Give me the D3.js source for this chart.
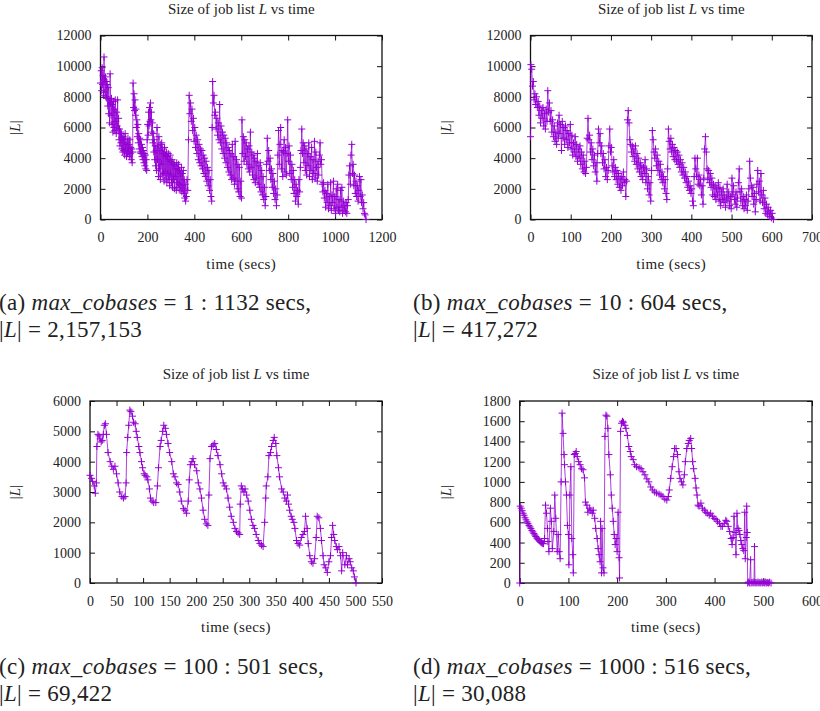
<!DOCTYPE html>
<html>
<head>
<meta charset="utf-8">
<script src="https://cdn.jsdelivr.net/npm/d3@7"></script>
<style>
body { margin: 0; background: #fff; }
svg text { font-family: 'Liberation Serif', 'DejaVu Serif', serif; fill: #222; }
</style>
</head>
<body>
<svg id="mainFrame" width="820" height="711"></svg>
<script>
// ---- data: [time (secs), |L|] ----
const seriesA = [[0,8900],[3,9700],[5,8400],[7,9900],[9,8800],[11,9400],[13,8100],[15,10600],[17,9100],[19,8300],[21,9300],[23,8000],[25,9000],[27,7900],[29,8800],[31,7400],[33,8600],[35,6900],[37,7800],[39,6300],[41,9500],[43,7600],[45,6800],[47,7900],[49,6200],[51,7500],[53,5700],[55,7700],[57,6000],[59,7200],[61,5800],[63,7800],[65,6400],[67,5600],[69,7000],[71,6100],[73,7800],[75,5900],[77,6600],[79,5200],[81,5900],[83,4800],[85,5700],[87,5000],[89,5600],[91,4600],[93,5300],[95,4400],[97,5400],[99,4500],[101,5200],[103,4200],[105,5600],[107,4600],[109,4900],[111,4100],[113,5000],[115,4300],[117,5300],[119,4400],[121,4900],[123,4100],[125,5200],[127,4300],[129,4700],[131,3900],[133,4600],[135,3700],[137,4400],
  [139,8900],[141,7300],[143,8200],[145,7100],[147,7800],[149,6800],[151,7200],[153,6000],[155,6500],[157,5400],[159,6200],[161,5000],[163,5600],[165,4600],[167,5300],[169,4400],[171,5200],[173,4300],[175,4900],[177,4100],[179,4700],[181,3900],[183,4500],[185,3700],[187,4300],[189,3500],[191,4200],[193,3300],[195,3900],[197,3200],
  [199,5200],[201,6200],[203,5500],[205,7000],[207,6100],[209,7300],[211,6400],[213,7600],[215,6500],[217,7000],[219,5700],[221,6300],[223,5000],[225,5600],[227,4400],[229,5200],[231,3900],[233,4800],[235,3500],[237,4500],[239,3200],
  [241,6000],[243,3900],[245,4800],[247,2800],[249,5400],[251,3300],[253,4500],[255,2600],[257,4900],[259,3600],[261,5000],[263,2900],[265,4600],[267,3000],[269,4300],[271,2500],[273,4700],[275,3100],[277,4200],[279,2700],[281,4400],[283,2400],[285,4100],[287,3000],[289,4300],[291,2600],[293,3900],[295,2200],[297,4200],[299,2900],[301,3800],[303,2400],[305,3900],[307,2100],[309,3600],[311,2600],[313,3700],[315,2000],[317,3500],[319,2800],[321,3300],[323,1900],[325,3700],[327,2400],[329,3300],[331,2100],[333,3600],[335,2300],[337,3200],[339,1900],[341,3000],[343,2200],[345,3400],[347,1800],[349,3000],[351,2000],[353,3200],[355,1700],[357,2600],[359,1400],[361,2300],
  [363,1200],[366,1500],[369,2600],[372,1900],[375,5200],[378,8100],[381,6900],[384,7600],[387,6400],[390,7200],[393,5800],[396,6600],[399,5100],[402,6000],[405,4700],[408,5500],[411,4300],[414,5200],[417,3900],[420,4900],[423,3700],[426,4600],[429,3500],[432,4500],[435,3300],[438,4200],[441,3000],[444,4000],[447,2800],[450,3800],[453,2500],[456,3400],[459,2200],[462,3200],[465,1900],[468,2600],[471,1500],[474,1200],
  [476,6000],[478,9000],[481,7600],[484,8100],[487,6800],[490,7000],[493,5900],[496,6600],[499,5500],[502,6300],[505,5200],[508,7500],[511,5000],[514,6100],[517,4600],[520,5700],[523,4300],[526,5500],[529,4000],[532,5300],[535,3700],[538,5000],[541,3400],[544,4700],[547,3100],[550,4500],[553,2900],[556,4300],[559,2600],[562,4900],[565,2700],[568,4100],[571,2300],[574,5100],[577,2500],[580,3900],[583,2000],[586,3600],[589,1800],[592,3400],[595,1500],[598,2500],[601,1400],
  [603,6500],[606,4300],[609,5400],[612,3800],[615,5200],[618,4100],[621,5000],[624,3600],[627,4600],[630,3300],[633,4800],[636,3100],[639,5700],[642,3400],[645,4400],[648,2900],[651,4200],[654,2600],[657,4000],[660,2400],[663,3800],[666,2700],[669,4300],[672,2300],[675,3500],[678,2100],[681,3700],[684,1800],[687,3200],[690,1600],[693,2800],[696,1300],[699,2100],[702,900],[705,1500],
  [708,3600],[711,5300],[714,3800],[717,4500],[720,3200],[723,4000],[726,2600],[729,3300],[732,2100],[735,3000],[738,1700],[741,2500],[744,1300],[747,2000],[750,900],[753,1600],
  [756,4200],[759,5800],[762,3600],[765,4900],[768,6000],[771,3300],[774,4500],[777,2800],[780,4400],[783,5200],[786,3100],[789,4700],[792,2900],[795,4300],[798,6500],[801,3800],[804,4800],[807,3000],[810,4200],[813,2600],[816,3600],[819,2100],[822,3200],[825,1700],[828,2600],[831,1200],[834,2300],[837,1500],[840,1900],[843,1000],[846,2600],[849,1800],[852,3400],
  [855,4500],[858,5900],[861,4300],[864,5000],[867,3700],[870,4800],[873,3200],[876,4600],[879,2900],[882,4300],[885,3500],[888,5000],[891,2800],[894,4100],[897,3200],[900,4700],[903,2600],[906,3900],[909,3000],[912,5100],[915,2700],[918,4400],[921,3400],[924,2500],[927,3800],[930,2900],[933,4200],[936,5000],[939,3600],[942,3900],[945,2300],
  [948,1800],[951,2400],[954,1400],[957,1900],[960,800],[963,1700],[966,1100],[969,2300],[972,700],[975,1500],[978,900],[981,2400],[984,600],[987,1600],[990,1100],[993,2500],[996,700],[999,1500],[1002,400],[1005,2000],[1008,800],[1011,2300],[1014,600],[1017,1300],[1020,500],[1023,1900],[1026,800],[1029,2100],[1032,400],[1035,1200],[1038,600],[1041,900],[1044,500],[1047,1100],[1050,400],[1053,900],[1056,1300],
  [1059,2900],[1062,3500],[1065,2300],[1068,4200],[1071,4900],[1074,3000],[1077,3600],[1080,2200],[1083,2900],[1086,1700],[1089,2500],[1092,1500],[1095,2200],[1098,1200],[1101,1900],[1104,2800],[1107,1500],[1110,2600],[1113,1100],[1116,1600],[1119,700],[1122,1100],[1125,400],[1128,300],[1132,0]];

const seriesB = [[0,5400],[1,10100],[3,9800],[5,8700],[7,9000],[9,7800],[11,8200],[13,7500],[15,8000],[17,7300],[19,7700],[21,6800],[23,7400],[25,6300],[27,7100],[29,6600],[31,7300],[33,6100],[35,6900],[37,5900],[39,7200],[41,6400],[43,8400],[45,7000],[47,7600],[49,6400],[51,7100],[53,5700],[55,6500],[57,5400],[59,6100],[61,5100],[63,5700],[65,4900],[67,6300],[69,5300],[71,6800],[73,5600],[75,6200],[77,4500],[79,6400],[81,5300],[83,6000],[85,4900],[87,6100],[89,5200],[91,5800],[93,4700],[95,5600],[97,5000],[99,6200],[101,4600],[103,5500],[105,4200],[107,5000],[109,4400],[111,5400],[113,4100],[115,4900],[117,3800],[119,4600],[121,4000],[123,4800],[125,3600],[127,4400],[129,3300],[131,4200],[133,3100],[135,3800],[137,3000],[139,3400],
  [141,5300],[143,6600],[145,5200],[147,5500],[149,4400],[151,5000],[153,3900],[155,4600],[157,3500],[159,4200],[161,3100],[163,3700],[165,2500],[167,4300],[169,5900],[171,5000],[173,5600],[175,4300],[177,4800],[179,3700],[181,4300],[183,3300],[185,3900],[187,2800],[189,3400],[191,2600],[193,3200],[195,4800],[197,5900],[199,4400],[201,4700],[203,3500],[205,3100],[207,3900],[209,2800],[211,3400],[213,2600],[215,3200],[217,2300],[219,3000],[221,2100],[223,2700],[225,1900],[227,2800],[229,2200],[231,3100],[233,2400],[235,2600],[237,1500],[239,2500],
  [241,6500],[243,7100],[245,6300],[247,5200],[249,4900],[251,4400],[253,4800],[255,4100],[257,4600],[259,3800],[261,4800],[263,3600],[265,4300],[267,3300],[269,4000],[271,3100],[273,3700],[275,2800],[277,3500],[279,2600],[281,3400],[283,3000],[285,3900],[287,2400],[289,3300],[291,2000],[293,2800],[295,1600],[297,2400],[299,1200],
  [301,3200],[303,5800],[305,5200],[307,4400],[309,4000],[311,4600],[313,3500],[315,4200],[317,3200],[319,3800],[321,2900],[323,3600],[325,2600],[327,3100],[329,2400],[331,2800],[333,2000],[335,2600],[337,1700],[339,1300],
  [341,3300],[343,5900],[345,5100],[347,4600],[349,5300],[351,4400],[353,4900],[355,4100],[357,4700],[359,3900],[361,4500],[363,3800],[365,4400],[367,3600],[369,4200],[371,3400],[373,3900],[375,3100],[377,3700],[379,2900],[381,3400],[383,2700],[385,3100],[387,2400],[389,2800],[391,2100],[393,2500],[395,1900],[397,2200],[399,1700],[401,2000],[403,1200],[405,900],
  [407,2800],[409,4000],[411,3300],[413,2800],[415,4000],[417,2300],[419,2900],[421,2200],[423,2600],[425,1600],[427,2200],[429,1000],[431,2700],[433,4600],[435,5400],[437,4400],[439,3300],[441,2600],[443,3200],[445,2400],[447,3000],[449,2100],[451,2700],[453,1600],[455,2300],[457,1500],[459,2200],[461,1300],[463,2000],[465,1600],[467,2400],[469,1200],[471,2100],[473,900],[475,1800],[477,1300],[479,2000],[481,1100],[483,1600],[485,800],[487,1400],[489,2300],[491,1200],[493,1800],[495,900],[497,1500],[499,700],
  [501,2700],[503,1600],[505,2200],[507,1300],[509,1000],[511,1800],[513,800],[515,1400],[517,2400],[519,3300],[521,1800],[523,1200],[525,2000],[527,900],[529,1500],[531,700],[533,1300],[535,900],[537,1600],[539,600],[541,1200],[543,2000],[545,3800],[547,2700],[549,2200],[551,1500],[553,2100],[555,1000],[557,1700],[559,500],[561,1300],[563,2300],[565,3200],[567,1800],[569,2500],[571,1200],[573,3000],[575,1600],[577,1100],[579,1900],[581,700],[583,1400],[585,400],[587,1000],[589,300],[591,800],[593,500],[595,200],[597,600],[599,100],[601,400],[604,0]];

const seriesC = [[0,3550],[3,3450],[5,3350],[8,3200],[10,2960],[12,3300],[13,4500],[15,4900],[17,4850],[19,4750],[21,4650],[23,4700],[25,4900],[27,5200],[29,5250],[31,4900],[34,4300],[38,4000],[41,3850],[44,3750],[47,3850],[50,3600],[53,3300],[56,3000],[60,2850],[63,2800],[66,2850],
  [68,3300],[69,4300],[71,4800],[73,5200],[75,5700],[77,5650],[80,5500],[82,5300],[85,5250],[87,5000],[89,4800],[92,4500],[94,4300],[97,4000],[99,3800],[102,3600],[104,3550],[107,3500],[109,3400],[112,3100],[114,2800],[117,2700],[120,2650],[124,2650],
  [127,3200],[129,3800],[132,4500],[134,4700],[137,5000],[139,5200],[142,5100],[144,4900],[147,4600],[150,4300],[154,4000],[157,3600],[160,3500],[163,3300],[166,3250],[169,3000],[172,2700],[176,2450],[179,2400],[182,2300],
  [185,2700],[187,3400],[189,3900],[192,4000],[194,4100],[197,3900],[201,3700],[204,3300],[207,3100],[210,2800],[213,2400],[216,2100],[219,1950],[222,1900],
  [224,2900],[226,4100],[229,4500],[232,4550],[235,4600],[238,4400],[241,4200],[245,3900],[248,3600],[251,3300],[254,3200],[257,3100],[260,2800],[263,2500],[266,2200],[270,2000],[273,1800],[276,1700],[279,1650],[282,1600],
  [283,2600],[285,3200],[287,3100],[290,3000],[292,3100],[295,2900],[298,2700],[301,2400],[304,2100],[307,1900],[310,1800],[313,1600],[317,1400],[320,1300],[323,1250],[326,1200],
  [329,2000],[331,2800],[332,3200],[335,3500],[337,4200],[340,4300],[342,4500],[345,4700],[347,4800],[350,4600],[352,4200],[355,3800],[357,3500],[361,3100],[364,3000],[367,2800],[370,2700],[372,2900],[374,2600],[376,2400],[379,2200],[381,2100],[384,2000],[386,1800],[389,1400],[392,1300],[395,1250],[398,1500],[401,1600],[404,1700],[406,2200],[409,1800],[411,1300],[414,900],[417,700],[420,650],[423,800],[426,1500],[428,2200],[431,2150],[434,1800],[436,1400],[439,900],[441,600],[444,500],[447,350],[450,700],[453,900],[455,1500],[457,1900],[459,1600],[461,1400],[464,1200],[466,1100],[469,1200],[472,900],[474,400],[476,1000],[480,600],[483,900],[485,600],[488,800],[490,700],[493,500],[496,400],[498,200],[501,0]];

const seriesD = [[0,0],[1,760],[3,740],[5,715],[7,690],[9,670],[11,645],[13,625],[15,605],[17,590],[19,570],[21,555],[23,540],[25,520],[27,505],[29,490],[31,475],[33,460],[35,445],[37,435],[39,425],[41,415],[43,405],[45,398],[47,392],[49,388],
  [51,440],[53,770],[55,690],[57,540],[58,410],[60,310],[63,740],[65,610],[67,340],[70,510],[72,870],[74,640],[77,310],[79,480],[81,310],[83,240],[85,1000],[87,1680],[89,1480],[91,1270],[92,1170],[94,1000],[96,870],[98,570],[100,480],[101,180],[103,870],[105,1150],[107,440],[109,280],[110,100],
  [112,1270],[114,1280],[116,1300],[118,1250],[121,1200],[124,1170],[127,1130],[130,1120],[133,1040],[135,800],[138,770],[140,700],[143,740],[146,720],[149,690],[151,720],[154,640],[156,540],[159,440],[161,340],[163,280],[165,210],[166,610],[168,100],[169,540],[171,150],[173,100],
  [175,1450],[177,1660],[179,1650],[181,1530],[183,1270],[186,1070],[188,870],[190,740],[192,610],[194,480],[196,380],[198,440],[200,310],[202,700],[204,250],[205,50],
  [207,1500],[209,1580],[211,1600],[213,1590],[216,1560],[218,1530],[221,1460],[224,1350],[227,1300],[229,1250],[233,1220],[236,1170],[240,1150],[245,1140],[249,1130],[253,1100],[257,1070],[261,1030],[265,1000],[269,950],[273,920],[277,900],[281,890],[286,880],[290,870],[294,855],[298,830],[302,820],
  [305,855],[307,920],[310,1035],[313,1150],[316,1250],[318,1330],[321,1330],[324,1270],[327,1100],[329,1035],[332,1000],[335,970],[338,1070],[340,1200],[343,1330],[346,1380],[348,1410],[351,1430],[353,1330],[355,1200],[357,1130],[360,1035],[362,940],[364,870],[366,770],[368,760],
  [372,790],[375,740],[379,720],[382,700],[385,690],[389,670],[392,690],[396,660],[399,640],[403,630],[406,610],[410,590],[413,560],[416,560],[420,590],[423,620],[425,610],[428,560],[431,510],[434,440],[436,380],[438,450],[440,660],[442,500],[444,280],[446,690],[448,540],[450,520],[452,480],[454,420],[456,380],[458,340],[460,320],[462,700],[463,240],[465,450],[466,760],[467,500],
  [468,0],[470,10],[472,0],[474,230],[475,0],[477,8],[479,0],[481,10],[482,360],[483,0],[485,5],[487,0],[489,10],[491,0],[493,5],[495,0],[497,10],[499,0],[501,5],[503,0],[505,10],[507,0],[509,5],[511,0],[513,8],[516,0]];

// tick values per panel
const xTicksA = [0, 200, 400, 600, 800, 1000, 1200];
const xTicksB = [0, 100, 200, 300, 400, 500, 600, 700];
const xTicksC = [0, 50, 100, 150, 200, 250, 300, 350, 400, 450, 500, 550];
const xTicksD = [0, 100, 200, 300, 400, 500, 600];
const yTicksAB = [0, 2000, 4000, 6000, 8000, 10000, 12000];
const yTicksC = [0, 1000, 2000, 3000, 4000, 5000, 6000];
const yTicksD = [0, 200, 400, 600, 800, 1000, 1200, 1400, 1600, 1800];

// captions: [prefix, max_cobases value, secs, |L|]
const captionA = ['(a)', '1', '1132', '2,157,153'];
const captionB = ['(b)', '10', '604', '417,272'];
const captionC = ['(c)', '100', '501', '69,422'];
const captionD = ['(d)', '1000', '516', '30,088'];

const svg = d3.select('#mainFrame');
const purple = '#9400d3';
const tickLen = 5;

const render = (data, xTicks, yTicks, box, caption) => {
    const xScale = d3.scaleLinear()
        .domain([0, xTicks[xTicks.length - 1]])
        .range([box.left, box.right]);
    const yScale = d3.scaleLinear()
        .domain([0, yTicks[yTicks.length - 1]])
        .range([box.bottom, box.top]);

    const g = svg.append('g');

    // mirrored inward ticks on all four sides
    const axes = [
        [d3.axisBottom(xScale), `translate(0,${box.bottom})`, true],
        [d3.axisTop(xScale), `translate(0,${box.top})`, false],
        [d3.axisLeft(yScale), `translate(${box.left},0)`, true],
        [d3.axisRight(yScale), `translate(${box.right},0)`, false]
    ];
    axes.forEach(([axis, tr, labels], i) => {
        const ticks = i < 2 ? xTicks : yTicks;
        axis.tickValues(ticks)
            .tickSizeInner(-tickLen)
            .tickSizeOuter(0)
            .tickPadding(i < 2 ? 13 : 9)
            .tickFormat(labels ? d3.format('d') : '');
        const ag = g.append('g').attr('transform', tr).call(axis);
        ag.select('.domain').remove();
        ag.selectAll('line').attr('stroke', '#111').attr('stroke-width', 1);
        ag.selectAll('text')
            .attr('font-family', "'Liberation Serif', serif")
            .attr('font-size', 14)
            .attr('fill', '#222');
    });

    g.append('rect')
        .attr('x', box.left)
        .attr('y', box.top)
        .attr('width', box.right - box.left)
        .attr('height', box.bottom - box.top)
        .attr('fill', 'none')
        .attr('stroke', '#111')
        .attr('stroke-width', 1.3);

    const line = d3.line()
        .x(d => xScale(d[0]))
        .y(d => yScale(d[1]));

    g.append('path')
        .datum(data)
        .attr('d', line)
        .attr('fill', 'none')
        .attr('stroke', purple)
        .attr('stroke-opacity', 0.75)
        .attr('stroke-width', 1);

    // '+' point markers
    const s = 3.5;
    g.append('path')
        .attr('d', data.map(d => {
            const x = xScale(d[0]), y = yScale(d[1]);
            return `M${x - s},${y}h${2 * s}M${x},${y - s}v${2 * s}`;
        }).join(''))
        .attr('fill', 'none')
        .attr('stroke', purple)
        .attr('stroke-width', 1);

    const cx = (box.left + box.right) / 2;

    // title
    const title = g.append('text')
        .attr('x', cx)
        .attr('y', box.top - 22)
        .attr('text-anchor', 'middle')
        .attr('font-size', 15);
    title.append('tspan').text('Size of job list ');
    title.append('tspan').attr('font-style', 'italic').text('L');
    title.append('tspan').text(' vs time');

    // x label
    g.append('text')
        .attr('x', cx)
        .attr('y', box.bottom + 49)
        .attr('text-anchor', 'middle')
        .attr('font-size', 15)
        .attr('letter-spacing', 0.4)
        .text('time (secs)');

    // y label
    const yl = g.append('text')
        .attr('transform', `translate(${box.ylabelX},${(box.top + box.bottom) / 2}) rotate(-90)`)
        .attr('text-anchor', 'middle')
        .attr('dy', '0.35em')
        .attr('font-size', 15);
    yl.append('tspan').text('|');
    yl.append('tspan').attr('font-style', 'italic').text('L');
    yl.append('tspan').text('|');

    // sub-figure caption
    const c1 = g.append('text')
        .attr('x', box.capX)
        .attr('y', box.capY)
        .attr('font-size', 23)
        .attr('letter-spacing', 0.3);
    c1.append('tspan').text(caption[0] + ' ');
    c1.append('tspan').attr('font-style', 'italic').text('max_cobases');
    c1.append('tspan').text(` = ${caption[1]} : ${caption[2]} secs,`);

    const c2 = g.append('text')
        .attr('x', box.capX)
        .attr('y', box.capY + 27)
        .attr('font-size', 23)
        .attr('letter-spacing', 0.3);
    c2.append('tspan').text('|');
    c2.append('tspan').attr('font-style', 'italic').text('L');
    c2.append('tspan').text(`| = ${caption[3]}`);
};

render(seriesA, xTicksA, yTicksAB,
    { left: 100.5, right: 382, top: 35.5, bottom: 219.5, ylabelX: 15, capX: -1, capY: 310 }, captionA);
render(seriesB, xTicksB, yTicksAB,
    { left: 530.5, right: 812, top: 35.5, bottom: 219.5, ylabelX: 446, capX: 413, capY: 310 }, captionB);
render(seriesC, xTicksC, yTicksC,
    { left: 90, right: 382, top: 401, bottom: 583, ylabelX: 15, capX: -1, capY: 674 }, captionC);
render(seriesD, xTicksD, yTicksD,
    { left: 519.7, right: 812, top: 401, bottom: 583, ylabelX: 446, capX: 413, capY: 674 }, captionD);
</script>
</body>
</html>
